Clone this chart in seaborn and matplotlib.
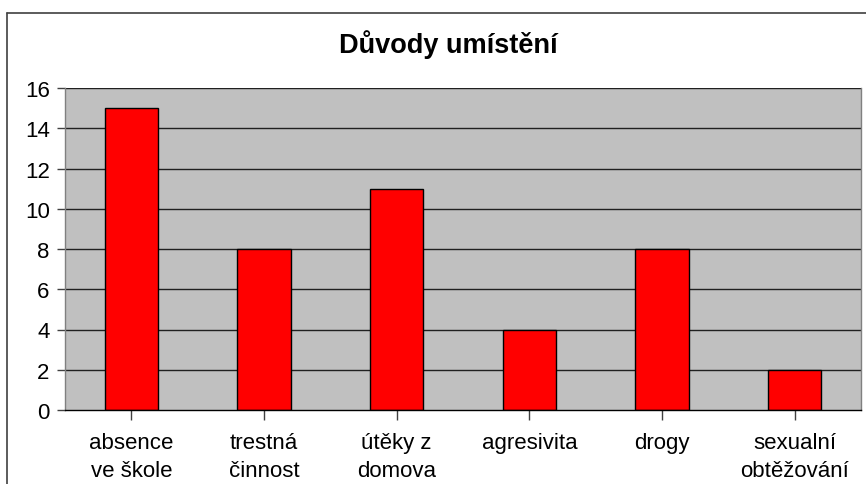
import matplotlib
matplotlib.use("Agg")
import matplotlib.pyplot as plt
import seaborn as sns
from matplotlib.lines import Line2D

# data
categories = ["absence\nve škole", "trestná\nčinnost", "útěky z\ndomova",
              "agresivita", "drogy", "sexualní\nobtěžování"]
counts = [15, 8, 11, 4, 8, 2]
y_ticks = [0, 2, 4, 6, 8, 10, 12, 14, 16]

sns.set_theme(style="white")
plt.rcParams['font.family'] = ['Liberation Sans', 'DejaVu Sans']
plt.rcParams['text.color'] = 'black'
plt.rcParams['xtick.labelcolor'] = 'black'
plt.rcParams['ytick.labelcolor'] = 'black'

fig = plt.figure(figsize=(8.66, 4.85), dpi=100)
ax = fig.add_axes([65 / 866, 1 - 411 / 485, (861 - 65) / 866, (411 - 89) / 485])
ax.set_facecolor('#c0c0c0')

sns.barplot(x=categories, y=counts, color='#ff0000', saturation=1, width=0.4,
            edgecolor='black', linewidth=1, ax=ax, zorder=3)

ax.set_ylim(0, 16)
ax.set_xlim(-0.5, 5.5)
ax.set_yticks(y_ticks)
ax.set_yticklabels([str(t) for t in y_ticks], fontsize=16)
ax.tick_params(axis='x', labelsize=16, length=7, width=1, color='#404040',
               pad=9, direction='out', bottom=True, labelcolor='black')
ax.tick_params(axis='y', length=6, width=1, color='#404040', pad=5,
               direction='out', left=True, labelcolor='black')
for lab in ax.get_xticklabels():
    lab.set_linespacing(1.4)
ax.set_xlabel('')
ax.set_ylabel('')

for t in y_ticks[1:]:
    ax.axhline(t, color='#202020', linewidth=1, zorder=1)

for side in ['left', 'right']:
    ax.spines[side].set_color('#808080')
    ax.spines[side].set_linewidth(1)
ax.spines['top'].set_visible(False)
ax.spines['bottom'].set_color('black')
ax.spines['bottom'].set_linewidth(1)
ax.spines['bottom'].set_zorder(4)

fig.text(448 / 866, 1 - 45 / 485, "Důvody umístění", ha='center', va='center',
         fontsize=19.5, fontweight='bold', color='black')

# outer chart frame
fig.add_artist(Line2D([7 / 866, 1], [1 - 14 / 485] * 2, color='#404040', linewidth=1.2))
fig.add_artist(Line2D([7 / 866] * 2, [0, 1 - 14 / 485], color='#404040', linewidth=1.2))

fig.savefig("out.png", dpi=100)
